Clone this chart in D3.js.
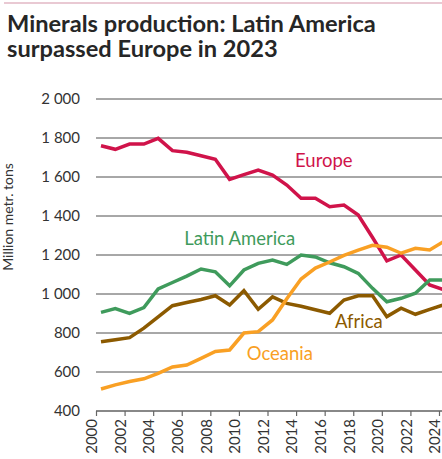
<!DOCTYPE html>
<html><head><meta charset="utf-8">
<script src="https://cdn.jsdelivr.net/npm/d3@7"></script>
<style>
html,body{margin:0;padding:0;background:#fff;}
svg{display:block;font-family:Lato, "Open Sans", sans-serif;}
</style></head>
<body>
<svg id="c" width="442" height="459"></svg>
<script>
const years = d3.range(2000, 2025);
const europe = [1760,1742,1769,1769,1798,1735,1727,1709,1691,1588,1612,1636,1610,1559,1491,1491,1448,1456,1405,1290,1170,1200,1123,1046,1021];
const latinAmerica = [906,925,901,930,1026,1059,1092,1128,1114,1042,1123,1157,1174,1152,1200,1190,1160,1140,1106,1029,960,978,1004,1072,1072];
const africa = [755,765,776,825,883,940,956,972,991,944,1017,922,985,952,937,919,901,969,991,991,884,927,896,921,945];
const oceania = [513,534,551,565,593,626,636,670,705,713,800,807,867,976,1077,1133,1164,1198,1225,1250,1240,1209,1234,1226,1270];
const yTicks = [400,600,800,1000,1200,1400,1600,1800,2000];
const xTicks = d3.range(2000, 2025, 2);
const seriesNames = ["Europe","Latin America","Africa","Oceania"];
const seriesColors = ["#d0134a","#3f9b5c","#8c5a00","#f9a024"];
const title = ["Minerals production: Latin America","surpassed Europe in 2023"];
const yTitle = "Million metr. tons";

const svg = d3.select("#c");
const x = d3.scaleLinear().domain([2000, 2024]).range([96, 439]);
const y = d3.scaleLinear().domain([400, 2000]).range([411, 99]);
const off = 0.35;

// top rule
svg.append("rect").attr("x",4).attr("y",2).attr("width",438).attr("height",2).attr("fill","#e9c9d3");

// title
const tt = svg.append("text").attr("x",7).attr("fill","#262626").attr("font-weight",700).attr("font-size",21.5);
tt.append("tspan").attr("x",7).attr("y",31.5).text(title[0]);
tt.append("tspan").attr("x",7).attr("y",56.5).text(title[1]);
{
  const w = tt.select("tspan").node().getComputedTextLength();
  tt.attr("font-size", 21.5 * 369 / w);
}

// gridlines
svg.append("g").selectAll("line").data(yTicks).join("line")
  .attr("x1",96).attr("x2",442)
  .attr("y1",d=>y(d)).attr("y2",d=>y(d))
  .attr("stroke",d=>d===400?"#888":"#333").attr("stroke-width",d=>d===400?2:1)
  .attr("opacity",d=>d===400?1:0.85);

// y tick labels
svg.append("g").selectAll("text").data(yTicks).join("text")
  .attr("x",80).attr("y",d=>y(d)).attr("dy","0.35em")
  .attr("text-anchor","end").attr("font-size",15).attr("fill","#333")
  .text(d=>d>=1000 ? d3.format(",")(d).replace(","," ") : d);

// y title
svg.append("text").attr("transform","translate(13,217) rotate(-90)")
  .attr("text-anchor","middle").attr("font-size",14).attr("fill","#333").text(yTitle);

// x axis ticks
const xa = svg.append("g").attr("transform",`translate(0,${y(400)})`)
  .call(d3.axisBottom(x).tickValues(xTicks).tickSize(5).tickFormat(d3.format("d")));
xa.select(".domain").remove();
xa.selectAll(".tick line").attr("stroke","#666").attr("stroke-width",1.2);
xa.selectAll(".tick text")
  .attr("font-family","Lato, sans-serif").attr("font-size",15).attr("fill","#333")
  .attr("transform","rotate(-90)").attr("text-anchor","end")
  .attr("x",-8).attr("y",-4.5).attr("dy","0.35em");

// lines
const line = d3.line().x((d,i)=>x(years[i]+off)).y(d=>y(d));
const data = [europe, latinAmerica, africa, oceania];
svg.append("g").selectAll("path").data(data).join("path")
  .attr("d",line).attr("fill","none")
  .attr("stroke",(d,i)=>seriesColors[i]).attr("stroke-width",3.5)
  .attr("stroke-linejoin","miter");

// labels
const labelPos = [[2013.93,1651],[2006.17,1251],[2016.72,826],[2010.55,662]];
const labs = svg.append("g").selectAll("text").data(seriesNames).join("text")
  .attr("x",(d,i)=>x(labelPos[i][0])).attr("y",(d,i)=>y(labelPos[i][1]))
  .attr("font-size",16.5).attr("fill",(d,i)=>seriesColors[i]).text(d=>d);
{
  const w = labs.filter((d,i)=>i===1).node().getComputedTextLength();
  labs.attr("font-size", Math.min(18.5, 16.5 * 111 / w));
}
</script>
</body></html>
